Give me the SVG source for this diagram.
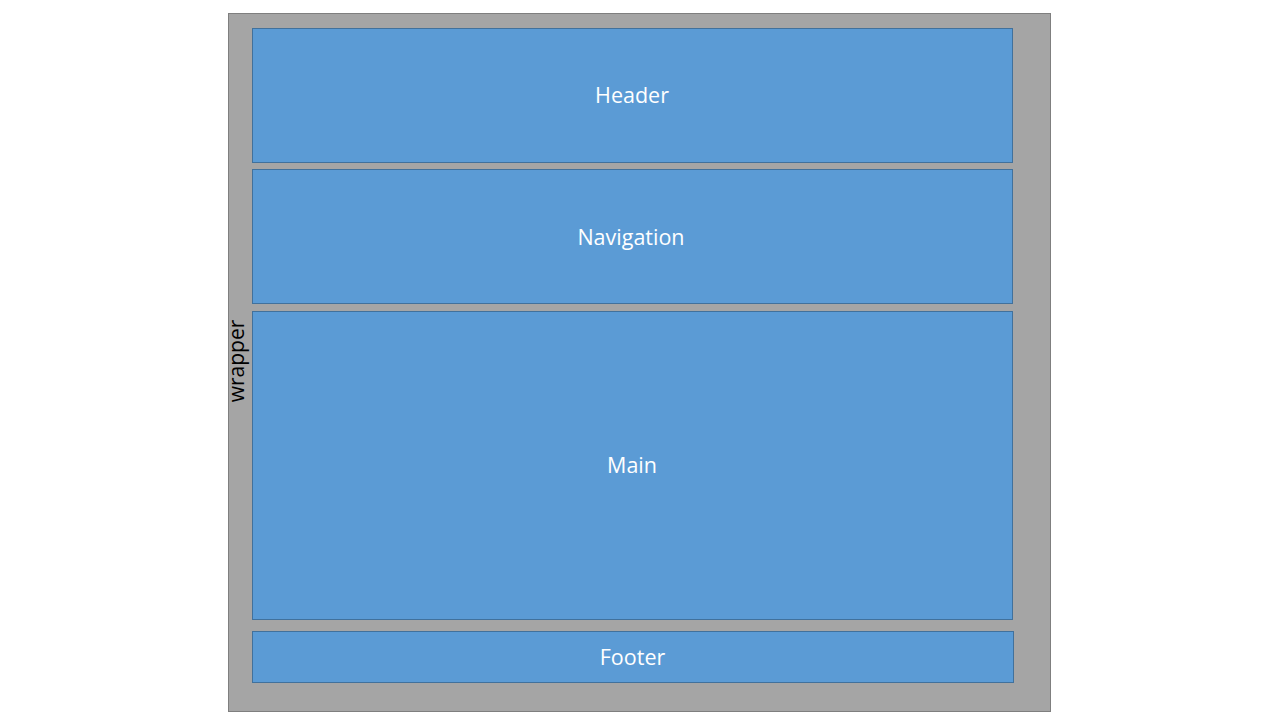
<svg xmlns="http://www.w3.org/2000/svg" width="1280" height="720" viewBox="0 0 1280 720">
<style>
.box{fill:#5B9BD5;stroke:#41719C;stroke-width:1}
.lbl{font-family:"Open Sans","Noto Sans","Liberation Sans",sans-serif;font-size:21.5px;fill:#FFFFFF;text-anchor:middle}
</style>
<rect width="1280" height="720" fill="#FFFFFF"/>
<g id="wrapper">
<rect x="228.5" y="13.5" width="822" height="698" fill="#A5A5A5" stroke="#7F7F7F" stroke-width="1"/>
<text transform="translate(244,361) rotate(-90)" font-family="Open Sans, Noto Sans, Liberation Sans, sans-serif" font-size="21" fill="#000000" text-anchor="middle">wrapper</text>
</g>
<g id="header">
<rect class="box" x="252.5" y="28.5" width="760" height="134"/>
<text class="lbl" x="632" y="103">Header</text>
</g>
<g id="navigation">
<rect class="box" x="252.5" y="169.5" width="760" height="134"/>
<text class="lbl" x="631" y="245">Navigation</text>
</g>
<g id="main">
<rect class="box" x="252.5" y="311.5" width="760" height="308"/>
<text class="lbl" x="632" y="473">Main</text>
</g>
<g id="footer">
<rect class="box" x="252.5" y="631.5" width="761" height="51"/>
<text class="lbl" x="632.5" y="665">Footer</text>
</g>
<g id="connectors"/>
</svg>
